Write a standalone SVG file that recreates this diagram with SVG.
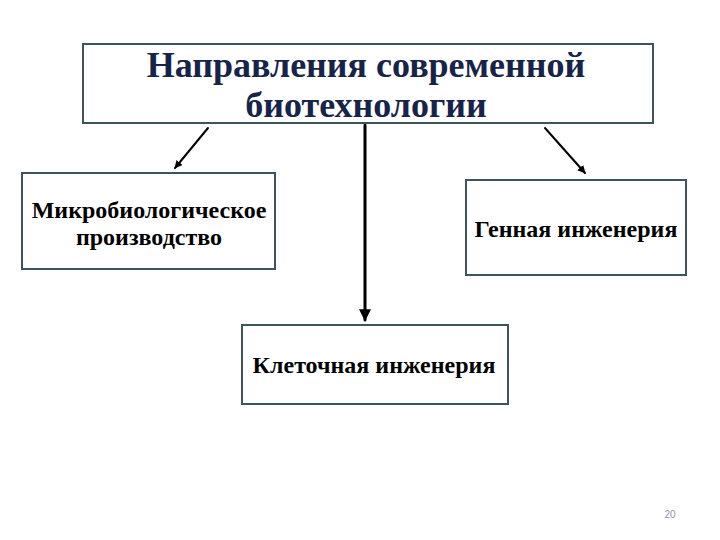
<svg xmlns="http://www.w3.org/2000/svg" width="720" height="540" viewBox="0 0 720 540">
<style>
.box{fill:#fff;stroke:#3e5360;stroke-width:2}
.t{font-family:"Liberation Serif",serif;font-weight:bold;text-anchor:middle;fill:#000}
.title{font-size:36px;fill:#17244a}
.lbl{font-size:24px}
.conn{stroke:#000;fill:none;stroke-linecap:round}
.pg{font-family:"Liberation Sans",sans-serif;font-size:10px;fill:#8c96a8}
</style>
<defs>
<marker id="ah" viewBox="0 0 10 10" refX="9" refY="5" markerWidth="4" markerHeight="4" orient="auto" markerUnits="strokeWidth">
<path d="M0,0 L10,5 L0,10 Z" fill="#000"/>
</marker>
</defs>
<rect width="720" height="540" fill="#fff"/>
<g id="connectors">
<line class="conn" x1="208" y1="128" x2="175" y2="168" stroke-width="2" marker-end="url(#ah)"/>
<line class="conn" x1="545" y1="128" x2="585" y2="173" stroke-width="2" marker-end="url(#ah)"/>
<line class="conn" x1="365" y1="125" x2="365" y2="320" stroke-width="3" marker-end="url(#ah)"/>
</g>
<g id="title">
<rect class="box" x="83" y="44" width="570" height="79"/>
<text class="t title" x="366" y="77">Направления современной</text>
<text class="t title" x="366" y="117">биотехнологии</text>
</g>
<g id="micro">
<rect class="box" x="22" y="173" width="253" height="96"/>
<text class="t lbl" x="149" y="218">Микробиологическое</text>
<text class="t lbl" x="149" y="245">производство</text>
</g>
<g id="gene">
<rect class="box" x="466" y="180" width="220" height="95"/>
<text class="t lbl" x="576" y="237">Генная инженерия</text>
</g>
<g id="cell">
<rect class="box" x="242" y="325" width="266" height="79"/>
<text class="t lbl" x="374" y="373">Клеточная инженерия</text>
</g>
<text class="pg" x="670" y="518" text-anchor="middle">20</text>
</svg>
